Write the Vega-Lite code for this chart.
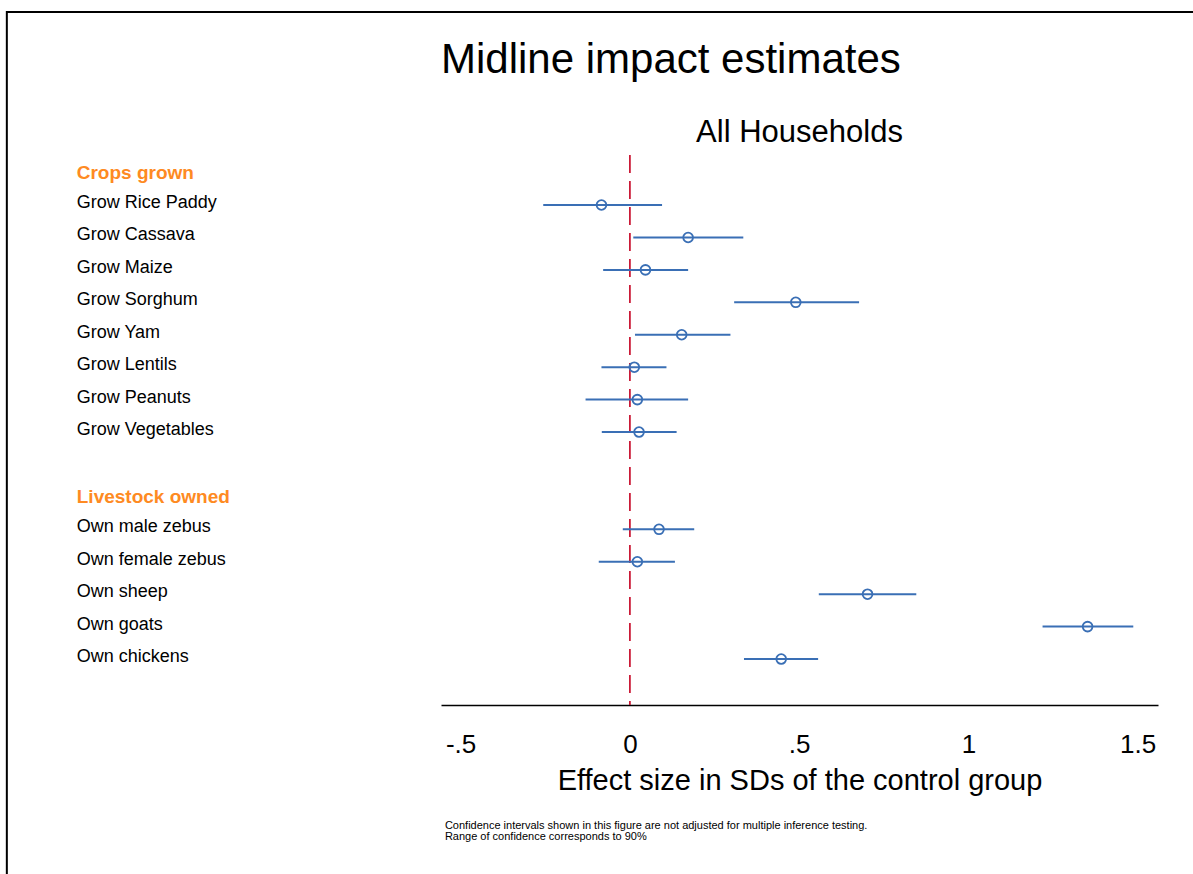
{
  "$schema": "https://vega.github.io/schema/vega-lite/v6.json",
  "width": 717,
  "height": 550,
  "autosize": {"type": "none"},
  "padding": {"left": 441, "top": 155, "right": 35, "bottom": 169},
  "background": "white",
  "config": {
    "view": {"stroke": null},
    "font": "Liberation Sans",
    "axisX": {
      "labelFont": "Liberation Sans",
      "labelFontSize": 26,
      "labelColor": "black",
      "labelPadding": 26,
      "labelFlush": false,
      "labelOverlap": false,
      "ticks": false,
      "tickSize": 0,
      "grid": false,
      "domainColor": "black",
      "domainWidth": 1.5,
      "titleFont": "Liberation Sans",
      "titleFontSize": 29,
      "titleFontWeight": "normal",
      "titleColor": "black",
      "titlePadding": 9
    }
  },
  "data": {
    "values": [
      {"label": "Crops grown", "type": "header", "row": 0},
      {"label": "Grow Rice Paddy", "type": "item", "row": 1, "est": -0.084, "lo": -0.256, "hi": 0.095},
      {"label": "Grow Cassava", "type": "item", "row": 2, "est": 0.172, "lo": 0.010, "hi": 0.335},
      {"label": "Grow Maize", "type": "item", "row": 3, "est": 0.046, "lo": -0.079, "hi": 0.172},
      {"label": "Grow Sorghum", "type": "item", "row": 4, "est": 0.490, "lo": 0.308, "hi": 0.677},
      {"label": "Grow Yam", "type": "item", "row": 5, "est": 0.153, "lo": 0.015, "hi": 0.297},
      {"label": "Grow Lentils", "type": "item", "row": 6, "est": 0.013, "lo": -0.084, "hi": 0.108},
      {"label": "Grow Peanuts", "type": "item", "row": 7, "est": 0.022, "lo": -0.131, "hi": 0.172},
      {"label": "Grow Vegetables", "type": "item", "row": 8, "est": 0.027, "lo": -0.083, "hi": 0.138},
      {"label": "Livestock owned", "type": "header", "row": 10},
      {"label": "Own male zebus", "type": "item", "row": 11, "est": 0.086, "lo": -0.021, "hi": 0.190},
      {"label": "Own female zebus", "type": "item", "row": 12, "est": 0.022, "lo": -0.092, "hi": 0.133},
      {"label": "Own sheep", "type": "item", "row": 13, "est": 0.702, "lo": 0.558, "hi": 0.846},
      {"label": "Own goats", "type": "item", "row": 14, "est": 1.352, "lo": 1.219, "hi": 1.487},
      {"label": "Own chickens", "type": "item", "row": 15, "est": 0.447, "lo": 0.337, "hi": 0.556}
    ]
  },
  "layer": [
    {
      "data": {"values": [{"what": "frame"}]},
      "mark": {"type": "rect", "filled": false, "stroke": "black", "strokeWidth": 2},
      "encoding": {
        "x": {"datum": -1.8405, "type": "quantitative", "scale": {"domain": [-0.558, 1.560], "nice": false, "zero": false},
              "axis": {"title": "Effect size in SDs of the control group", "values": [-0.5, 0, 0.5, 1, 1.5], "labelExpr": "datum.value == 0 ? '0' : (datum.value < 0 ? '-' : '') + replace(format(abs(datum.value), '~g'), '0.', '.')"}},
        "x2": {"datum": 1.70},
        "y": {"datum": -4.952, "type": "quantitative", "scale": {"domain": [-0.543, 16.417], "reverse": true, "nice": false, "zero": false}, "axis": null},
        "y2": {"datum": 22.0}
      }
    },
    {
      "data": {"values": [{"what": "zero line"}]},
      "mark": {"type": "rule", "color": "#c8102e", "strokeWidth": 1.7, "strokeDash": [18, 8]},
      "encoding": {
        "x": {"datum": 0, "type": "quantitative", "scale": {"domain": [-0.558, 1.560], "nice": false, "zero": false},
              "axis": {"title": "Effect size in SDs of the control group", "values": [-0.5, 0, 0.5, 1, 1.5], "labelExpr": "datum.value == 0 ? '0' : (datum.value < 0 ? '-' : '') + replace(format(abs(datum.value), '~g'), '0.', '.')"}}
      }
    },
    {
      "transform": [{"filter": "isValid(datum.lo)"}],
      "mark": {"type": "rule", "color": "#3a6fb5", "strokeWidth": 2},
      "encoding": {
        "x": {"field": "lo", "type": "quantitative", "scale": {"domain": [-0.558, 1.560], "nice": false, "zero": false},
              "axis": {"title": "Effect size in SDs of the control group", "values": [-0.5, 0, 0.5, 1, 1.5], "labelExpr": "datum.value == 0 ? '0' : (datum.value < 0 ? '-' : '') + replace(format(abs(datum.value), '~g'), '0.', '.')"}},
        "x2": {"field": "hi"},
        "y": {"field": "row", "type": "quantitative", "scale": {"domain": [-0.543, 16.417], "reverse": true, "nice": false, "zero": false}, "axis": null}
      }
    },
    {
      "transform": [{"filter": "isValid(datum.est)"}],
      "mark": {"type": "point", "shape": "circle", "filled": false, "size": 95, "strokeWidth": 1.8, "color": "#3a6fb5", "opacity": 1},
      "encoding": {
        "x": {"field": "est", "type": "quantitative", "scale": {"domain": [-0.558, 1.560], "nice": false, "zero": false},
              "axis": {"title": "Effect size in SDs of the control group", "values": [-0.5, 0, 0.5, 1, 1.5], "labelExpr": "datum.value == 0 ? '0' : (datum.value < 0 ? '-' : '') + replace(format(abs(datum.value), '~g'), '0.', '.')"}},
        "y": {"field": "row", "type": "quantitative", "scale": {"domain": [-0.543, 16.417], "reverse": true, "nice": false, "zero": false}, "axis": null}
      }
    },
    {
      "transform": [{"filter": "datum.type === 'item'"}],
      "mark": {"type": "text", "align": "left", "baseline": "middle", "dy": -2, "fontSize": 18, "color": "black", "font": "Liberation Sans"},
      "encoding": {
        "x": {"datum": -1.634, "type": "quantitative", "scale": {"domain": [-0.558, 1.560], "nice": false, "zero": false},
              "axis": {"title": "Effect size in SDs of the control group", "values": [-0.5, 0, 0.5, 1, 1.5], "labelExpr": "datum.value == 0 ? '0' : (datum.value < 0 ? '-' : '') + replace(format(abs(datum.value), '~g'), '0.', '.')"}},
        "y": {"field": "row", "type": "quantitative", "scale": {"domain": [-0.543, 16.417], "reverse": true, "nice": false, "zero": false}, "axis": null},
        "text": {"field": "label"}
      }
    },
    {
      "transform": [{"filter": "datum.type === 'header'"}],
      "mark": {"type": "text", "align": "left", "baseline": "middle", "fontSize": 19, "fontWeight": "bold", "color": "#fe8a22", "font": "Liberation Sans"},
      "encoding": {
        "x": {"datum": -1.634, "type": "quantitative", "scale": {"domain": [-0.558, 1.560], "nice": false, "zero": false},
              "axis": {"title": "Effect size in SDs of the control group", "values": [-0.5, 0, 0.5, 1, 1.5], "labelExpr": "datum.value == 0 ? '0' : (datum.value < 0 ? '-' : '') + replace(format(abs(datum.value), '~g'), '0.', '.')"}},
        "y": {"field": "row", "type": "quantitative", "scale": {"domain": [-0.543, 16.417], "reverse": true, "nice": false, "zero": false}, "axis": null},
        "text": {"field": "label"}
      }
    },
    {
      "data": {"values": [{"t": "Midline impact estimates"}]},
      "mark": {"type": "text", "align": "left", "baseline": "alphabetic", "fontSize": 42, "color": "black", "font": "Liberation Sans"},
      "encoding": {
        "x": {"datum": -0.558, "type": "quantitative", "scale": {"domain": [-0.558, 1.560], "nice": false, "zero": false},
              "axis": {"title": "Effect size in SDs of the control group", "values": [-0.5, 0, 0.5, 1, 1.5], "labelExpr": "datum.value == 0 ? '0' : (datum.value < 0 ? '-' : '') + replace(format(abs(datum.value), '~g'), '0.', '.')"}},
        "y": {"datum": -3.08, "type": "quantitative", "scale": {"domain": [-0.543, 16.417], "reverse": true, "nice": false, "zero": false}, "axis": null},
        "text": {"field": "t"}
      }
    },
    {
      "data": {"values": [{"t": "All Households"}]},
      "mark": {"type": "text", "align": "center", "baseline": "alphabetic", "fontSize": 31, "color": "black", "font": "Liberation Sans"},
      "encoding": {
        "x": {"datum": 0.501, "type": "quantitative", "scale": {"domain": [-0.558, 1.560], "nice": false, "zero": false},
              "axis": {"title": "Effect size in SDs of the control group", "values": [-0.5, 0, 0.5, 1, 1.5], "labelExpr": "datum.value == 0 ? '0' : (datum.value < 0 ? '-' : '') + replace(format(abs(datum.value), '~g'), '0.', '.')"}},
        "y": {"datum": -0.953, "type": "quantitative", "scale": {"domain": [-0.543, 16.417], "reverse": true, "nice": false, "zero": false}, "axis": null},
        "text": {"field": "t"}
      }
    },
    {
      "data": {"values": [{"t": ["Confidence intervals shown in this figure are not adjusted for multiple inference testing.", "Range of confidence corresponds to 90%"]}]},
      "mark": {"type": "text", "align": "left", "baseline": "alphabetic", "fontSize": 11, "lineHeight": 11.2, "color": "black", "font": "Liberation Sans"},
      "encoding": {
        "x": {"datum": -0.5465, "type": "quantitative", "scale": {"domain": [-0.558, 1.560], "nice": false, "zero": false},
              "axis": {"title": "Effect size in SDs of the control group", "values": [-0.5, 0, 0.5, 1, 1.5], "labelExpr": "datum.value == 0 ? '0' : (datum.value < 0 ? '-' : '') + replace(format(abs(datum.value), '~g'), '0.', '.')"}},
        "y": {"datum": 20.25, "type": "quantitative", "scale": {"domain": [-0.543, 16.417], "reverse": true, "nice": false, "zero": false}, "axis": null},
        "text": {"field": "t"}
      }
    }
  ]
}
